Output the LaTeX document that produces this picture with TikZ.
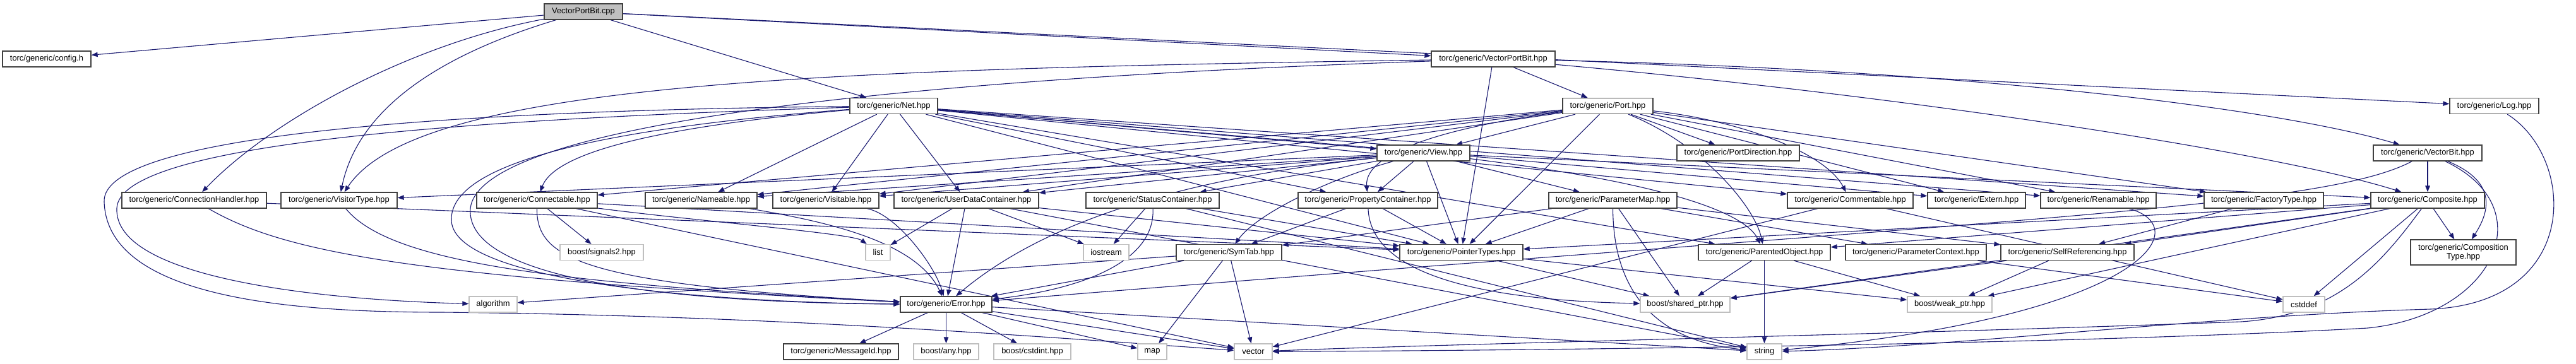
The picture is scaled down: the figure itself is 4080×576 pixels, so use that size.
\documentclass[tikz,border=0pt]{standalone}
\usepackage{fontspec}
\setmainfont{Liberation Sans}
\usetikzlibrary{arrows.meta}
\pgfdeclarelayer{bg}
\pgfsetlayers{bg,main}
\definecolor{edgec}{HTML}{191970}
\definecolor{sysc}{HTML}{BFBFBF}
\definecolor{boxc}{HTML}{404040}
\tikzset{
  box/.style={draw=boxc, line width=1.3pt, fill=white, minimum height=25pt, inner sep=0pt, font=\fontsize{12.9}{14}\selectfont},
  hdr/.style={box},
  sys/.style={box, draw=sysc},
  src/.style={box, fill=sysc},
  e/.style={draw=edgec, line width=1.1pt, -{Triangle[length=10pt,width=7.5pt]}},
}
\begin{document}
\begin{tikzpicture}[x=1pt,y=-1pt]
\useasboundingbox (0,0) rectangle (4080,576);
% row 0
\node[src, minimum width=124pt] (cpp) at (924,18.5) {VectorPortBit.cpp};
% row 1
\node[hdr, minimum width=140pt] (config) at (74,93.5) {torc/generic/config.h};
\node[hdr, minimum width=196pt] (vpb) at (2365,93.5) {torc/generic/VectorPortBit.hpp};
% row 2
\node[hdr, minimum width=139pt] (net) at (1415.5,168) {torc/generic/Net.hpp};
\node[hdr, minimum width=143pt] (port) at (2546.5,168) {torc/generic/Port.hpp};
\node[hdr, minimum width=141pt] (log) at (3950.5,168) {torc/generic/Log.hpp};
% row 3
\node[hdr, minimum width=147pt] (view) at (2254.5,242.5) {torc/generic/View.hpp};
\node[hdr, minimum width=194pt] (pdir) at (2753,242.5) {torc/generic/PortDirection.hpp};
\node[hdr, minimum width=172pt] (vbit) at (3845,242.5) {torc/generic/VectorBit.hpp};
% row 4
\node[hdr, minimum width=229pt] (ch) at (307.5,317.5) {torc/generic/ConnectionHandler.hpp};
\node[hdr, minimum width=184pt] (vt) at (537,317.5) {torc/generic/VisitorType.hpp};
\node[hdr, minimum width=191pt] (connect) at (850.5,317.5) {torc/generic/Connectable.hpp};
\node[hdr, minimum width=177pt] (nameable) at (1110.5,317.5) {torc/generic/Nameable.hpp};
\node[hdr, minimum width=168pt] (visitable) at (1308,317.5) {torc/generic/Visitable.hpp};
\node[hdr, minimum width=229pt] (udc) at (1530.5,317.5) {torc/generic/UserDataContainer.hpp};
\node[hdr, minimum width=211pt] (sc) at (1825.5,317.5) {torc/generic/StatusContainer.hpp};
\node[hdr, minimum width=221pt] (propc) at (2166.5,317.5) {torc/generic/PropertyContainer.hpp};
\node[hdr, minimum width=203pt] (pmap) at (2554.5,317.5) {torc/generic/ParameterMap.hpp};
\node[hdr, minimum width=199pt] (comment) at (2930.5,317.5) {torc/generic/Commentable.hpp};
\node[hdr, minimum width=155pt] (extern) at (3130.5,317.5) {torc/generic/Extern.hpp};
\node[hdr, minimum width=183pt] (renam) at (3323.5,317.5) {torc/generic/Renamable.hpp};
\node[hdr, minimum width=189pt] (factory) at (3585.5,317.5) {torc/generic/FactoryType.hpp};
\node[hdr, minimum width=180pt] (comp) at (3845,317.5) {torc/generic/Composite.hpp};
% row 5
\node[sys, minimum width=132pt] (signals) at (953,400) {boost/signals2.hpp};
\node[sys, minimum width=39pt] (list) at (1390.5,400) {list};
\node[sys, minimum width=72pt] (iostream) at (1752,400) {iostream};
\node[hdr, minimum width=167pt] (symtab) at (1946.5,400) {torc/generic/SymTab.hpp};
\node[hdr, minimum width=195pt] (pt) at (2314.5,400) {torc/generic/PointerTypes.hpp};
\node[hdr, minimum width=209pt] (po) at (2794.5,400) {torc/generic/ParentedObject.hpp};
\node[hdr, minimum width=223pt] (pctx) at (3034.5,400) {torc/generic/ParameterContext.hpp};
\node[hdr, minimum width=211pt] (sr) at (3274.5,400) {torc/generic/SelfReferencing.hpp};
\node[hdr, minimum width=167pt, minimum height=40pt, align=center] (ctype) at (3901.5,400) {torc/generic/Composition\\Type.hpp};
% row 6
\node[sys, minimum width=76pt] (alg) at (781,482.5) {algorithm};
\node[hdr, minimum width=145pt] (err) at (1498.5,482.5) {torc/generic/Error.hpp};
\node[sys, minimum width=142pt] (shptr) at (2669,482.5) {boost/shared\_ptr.hpp};
\node[sys, minimum width=134pt] (weakptr) at (3088,482.5) {boost/weak\_ptr.hpp};
\node[sys, minimum width=66pt] (cstddef) at (3649,482.5) {cstddef};
% row 7
\node[hdr, minimum width=182pt] (msgid) at (1332,557.5) {torc/generic/MessageId.hpp};
\node[sys, minimum width=103pt] (any) at (1498.5,557.5) {boost/any.hpp};
\node[sys, minimum width=122pt] (cstdint) at (1635,557.5) {boost/cstdint.hpp};
\node[sys, minimum width=46pt] (map) at (1825,557.5) {map};
\node[sys, minimum width=60pt] (vector) at (1985,557.5) {vector};
\node[sys, minimum width=55pt] (string) at (2794.5,557.5) {string};

\begin{pgfonlayer}{bg}
% VectorPortBit.cpp
\draw[e] (cpp) -- (config);
\draw[e] (cpp) .. controls (650,70) and (430,190) .. (ch);
\draw[e] (cpp) .. controls (720,80) and (570,160) .. (vt);
\draw[e] (cpp) -- (net);
\draw[e] (cpp) -- (vpb);
\draw[e] (cpp) -- (log);
% VectorPortBit.hpp
\draw[e] (vpb) -- (port);
\draw[e] (vpb) -- (pt);
\draw[e] (vpb) .. controls (3100,110) and (3600,170) .. (vbit);
\draw[e] (vpb) .. controls (1300,110) and (660,130) .. (vt);
\draw[e] (vpb) .. controls (3000,150) and (3600,240) .. (comp);
\draw[e] (vpb) .. controls (1300,130) and (760,210) .. (745,330) .. controls (735,450) and (1100,480) .. (err);
% Net.hpp
\draw[e] (net) .. controls (1050,200) and (880,240) .. (connect);
\draw[e] (net) -- (nameable);
\draw[e] (net) -- (visitable);
\draw[e] (net) -- (udc);
\draw[e] (net) -- (propc);
\draw[e] (net) -- (view);
\draw[e] (net) -- (comment);
\draw[e] (net) -- (extern);
\draw[e] (net) -- (renam);
\draw[e] (net) -- (factory);
\draw[e] (net) -- (po);
\draw[e] (net) -- (pt);
\draw[e] (net) .. controls (1000,200) and (710,250) .. (715,350) .. controls (720,450) and (1150,480) .. (err);
\draw[e] (net) .. controls (700,190) and (190,230) .. (185,330) .. controls (180,440) and (500,475) .. (alg);
\draw[e] (net) .. controls (700,175) and (160,215) .. (165,320) .. controls (170,470) and (450,495) .. (700,495) .. controls (1200,500) and (1600,530) .. (vector);
% Port.hpp
\draw[e] (port) -- (pdir);
\draw[e] (port) -- (view);
\draw[e] (port) -- (connect);
\draw[e] (port) -- (nameable);
\draw[e] (port) -- (visitable);
\draw[e] (port) -- (udc);
\draw[e] (port) .. controls (2300,200) and (2160,240) .. (propc);
\draw[e] (port) .. controls (2750,190) and (2890,240) .. (comment);
\draw[e] (port) -- (extern);
\draw[e] (port) -- (renam);
\draw[e] (port) -- (factory);
\draw[e] (port) .. controls (2700,230) and (2780,330) .. (po);
\draw[e] (port) -- (pt);
% View.hpp
\draw[e] (view) -- (vt);
\draw[e] (view) -- (nameable);
\draw[e] (view) -- (visitable);
\draw[e] (view) -- (udc);
\draw[e] (view) -- (sc);
\draw[e] (view) -- (propc);
\draw[e] (view) -- (pmap);
\draw[e] (view) .. controls (2100,285) and (1990,340) .. (symtab);
\draw[e] (view) -- (pt);
\draw[e] (view) -- (comp);
\draw[e] (view) .. controls (2600,285) and (2760,330) .. (po);
\draw[e] (view) .. controls (1800,290) and (1620,380) .. (err);
% row 4
\draw[e] (ch) .. controls (450,400) and (650,440) .. (err);
\draw[e] (ch) -- (pt);
\draw[e] (vt) .. controls (620,420) and (900,450) .. (err);
\draw[e] (connect) -- (signals);
\draw[e] (connect) .. controls (850,410) and (920,450) .. (err);
\draw[e] (connect) .. controls (1100,350) and (1350,370) .. (list);
\draw[e] (connect) -- (pt);
\draw[e] (connect) -- (vector);
\draw[e] (nameable) .. controls (1300,350) and (1450,380) .. (err);
\draw[e] (visitable) .. controls (1420,340) and (1480,420) .. (err);
\draw[e] (udc) -- (list);
\draw[e] (udc) -- (err);
\draw[e] (udc) -- (iostream);
\draw[e] (udc) -- (string);
\draw[e] (udc) -- (pt);
\draw[e] (sc) -- (iostream);
\draw[e] (sc) .. controls (1830,420) and (1700,460) .. (err);
\draw[e] (sc) -- (pt);
\draw[e] (sc) -- (string);
\draw[e] (propc) -- (symtab);
\draw[e] (propc) -- (pt);
\draw[e] (propc) .. controls (2170,420) and (2300,475) .. (shptr);
\draw[e] (pmap) -- (symtab);
\draw[e] (pmap) -- (pt);
\draw[e] (pmap) -- (pctx);
\draw[e] (pmap) -- (sr);
\draw[e] (pmap) -- (shptr);
\draw[e] (pmap) .. controls (2555,460) and (2620,540) .. (string);
\draw[e] (comment) -- (vector);
\draw[e] (comment) -- (cstddef);
\draw[e] (renam) .. controls (3480,360) and (3400,500) .. (string);
\draw[e] (factory) -- (sr);
\draw[e] (comp) -- (sr);
\draw[e] (comp) -- (ctype);
\draw[e] (comp) -- (cstddef);
\draw[e] (comp) -- (po);
\draw[e] (comp) -- (pt);
\draw[e] (comp) -- (shptr);
\draw[e] (comp) -- (weakptr);
\draw[e] (comp) .. controls (3770,420) and (3700,500) .. (3550,510) .. controls (3000,530) and (2300,545) .. (vector);
\draw[e] (vbit) -- (comp);
\draw[e] (vbit) .. controls (3960,290) and (3940,340) .. (ctype);
\draw[e] (vbit) .. controls (3680,330) and (3200,345) .. (err);
\draw[e] (vbit) .. controls (4030,330) and (3950,500) .. (3750,520) .. controls (3300,545) and (2500,555) .. (vector);
\draw[e] (log) .. controls (4080,250) and (4090,480) .. (3850,490) .. controls (3500,500) and (3100,550) .. (string);
% row 5
\draw[e] (symtab) -- (err);
\draw[e] (symtab) -- (alg);
\draw[e] (symtab) -- (map);
\draw[e] (symtab) -- (vector);
\draw[e] (pt) -- (shptr);
\draw[e] (pt) -- (weakptr);
\draw[e] (po) -- (shptr);
\draw[e] (po) -- (string);
\draw[e] (po) -- (weakptr);
\draw[e] (pctx) -- (cstddef);
\draw[e] (sr) -- (shptr);
\draw[e] (sr) -- (weakptr);
% Error.hpp
\draw[e] (err) -- (msgid);
\draw[e] (err) -- (any);
\draw[e] (err) -- (cstdint);
\draw[e] (err) -- (map);
\draw[e] (err) -- (vector);
\draw[e] (err) -- (string);
\end{pgfonlayer}
\end{tikzpicture}
\end{document}
